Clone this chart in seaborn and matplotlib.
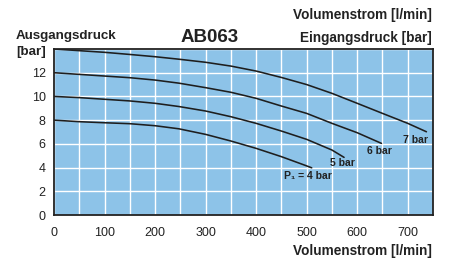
import matplotlib
matplotlib.use("Agg")
import matplotlib.pyplot as plt
import seaborn as sns
import pandas as pd
import numpy as np

sns.set_theme(style="white")
plt.rcParams['font.family'] = ['Liberation Sans', 'DejaVu Sans']

# Data (x: flow l/min, y: outlet pressure bar)
x_4bar = [0, 50, 100, 150, 200, 247, 300, 350, 400, 450, 495, 510]
y_4bar = [8.0, 7.87, 7.78, 7.7, 7.53, 7.27, 6.8, 6.24, 5.62, 4.92, 4.22, 3.98]
x_5bar = [0, 50, 100, 150, 200, 247, 300, 350, 400, 450, 500, 550, 574]
y_5bar = [10.0, 9.9, 9.76, 9.62, 9.42, 9.15, 8.77, 8.29, 7.73, 7.08, 6.38, 5.48, 4.86]
x_6bar = [0, 50, 100, 150, 200, 247, 300, 350, 400, 450, 500, 550, 600, 648]
y_6bar = [12.0, 11.86, 11.72, 11.58, 11.38, 11.12, 10.74, 10.35, 9.84, 9.19,
          8.57, 7.73, 6.94, 6.04]
x_7bar = [0, 50, 100, 150, 200, 247, 300, 350, 400, 450, 500, 550, 600, 650, 700, 737]
y_7bar = [14.0, 13.86, 13.72, 13.54, 13.35, 13.14, 12.88, 12.56, 12.14, 11.6,
          11.0, 10.26, 9.42, 8.57, 7.73, 7.02]
series_labels = ["P\u2081 = 4 bar", "5 bar", "6 bar", "7 bar"]
label_pos_x = [502, 595, 669, 740]
label_pos_y = [3.31, 4.41, 5.42, 6.3]
x_ticks = [0, 100, 200, 300, 400, 500, 600, 700]
y_ticks = [0, 2, 4, 6, 8, 10, 12]

rows = []
for lab, xs, ys in zip(series_labels, [x_4bar, x_5bar, x_6bar, x_7bar],
                       [y_4bar, y_5bar, y_6bar, y_7bar]):
    for xv, yv in zip(xs, ys):
        rows.append({"flow": xv, "pressure": yv, "series": lab})
df = pd.DataFrame(rows)

fig = plt.figure(figsize=(4.49, 2.58), dpi=100)
ax = fig.add_axes([54/449, 43/258, (433-54)/449, (215-49)/258])
ax.set_facecolor("#8dc3e8")

sns.lineplot(data=df, x="flow", y="pressure", hue="series", sort=False,
             palette=["#1e1e1e"]*4, linewidth=1.15, legend=False, ax=ax)

ax.set_xlim(0, 750)
ax.set_ylim(0, 14)
ax.set_xticks(x_ticks)
ax.set_yticks(y_ticks)
ax.set_xticks(np.arange(0, 751, 50), minor=True)
ax.set_yticks(np.arange(0, 15, 2), minor=True)
ax.grid(True, which="both", color="white", linewidth=1.0)
ax.set_axisbelow(True)
for s in ax.spines.values():
    s.set_color("#222222")
    s.set_linewidth(1.3)
ax.tick_params(axis="both", which="both", length=0, labelsize=9,
               colors="#222222", pad=6)
ax.tick_params(axis="x", pad=9)
ax.set_xlabel("")
ax.set_ylabel("")

for lab, lx, ly in zip(series_labels, label_pos_x, label_pos_y):
    ax.text(lx, ly, lab, ha="right" if lab != series_labels[0] else "center",
            va="center", fontsize=7.5, fontweight="bold", color="#222222")

fig.text(432/449, 1-15/258, "Volumenstrom [l/min]", ha="right", va="center",
         fontsize=9.8, fontweight="bold", color="#222222")
fig.text(16/449, 1-36.5/258, "Ausgangsdruck", ha="left", va="center",
         fontsize=9.6, fontweight="bold", color="#222222")
fig.text(16/449, 1-51.5/258, "[bar]", ha="left", va="center",
         fontsize=9.6, fontweight="bold", color="#222222")
fig.text(210/449, 1-37/258, "AB063", ha="center", va="center",
         fontsize=13.5, fontweight="bold", color="#222222")
fig.text(432/449, 1-38/258, "Eingangsdruck [bar]", ha="right", va="center",
         fontsize=9.8, fontweight="bold", color="#222222")
fig.text(432/449, 1-251/258, "Volumenstrom [l/min]", ha="right", va="center",
         fontsize=9.8, fontweight="bold", color="#222222")

fig.savefig("out.png", dpi=100)
